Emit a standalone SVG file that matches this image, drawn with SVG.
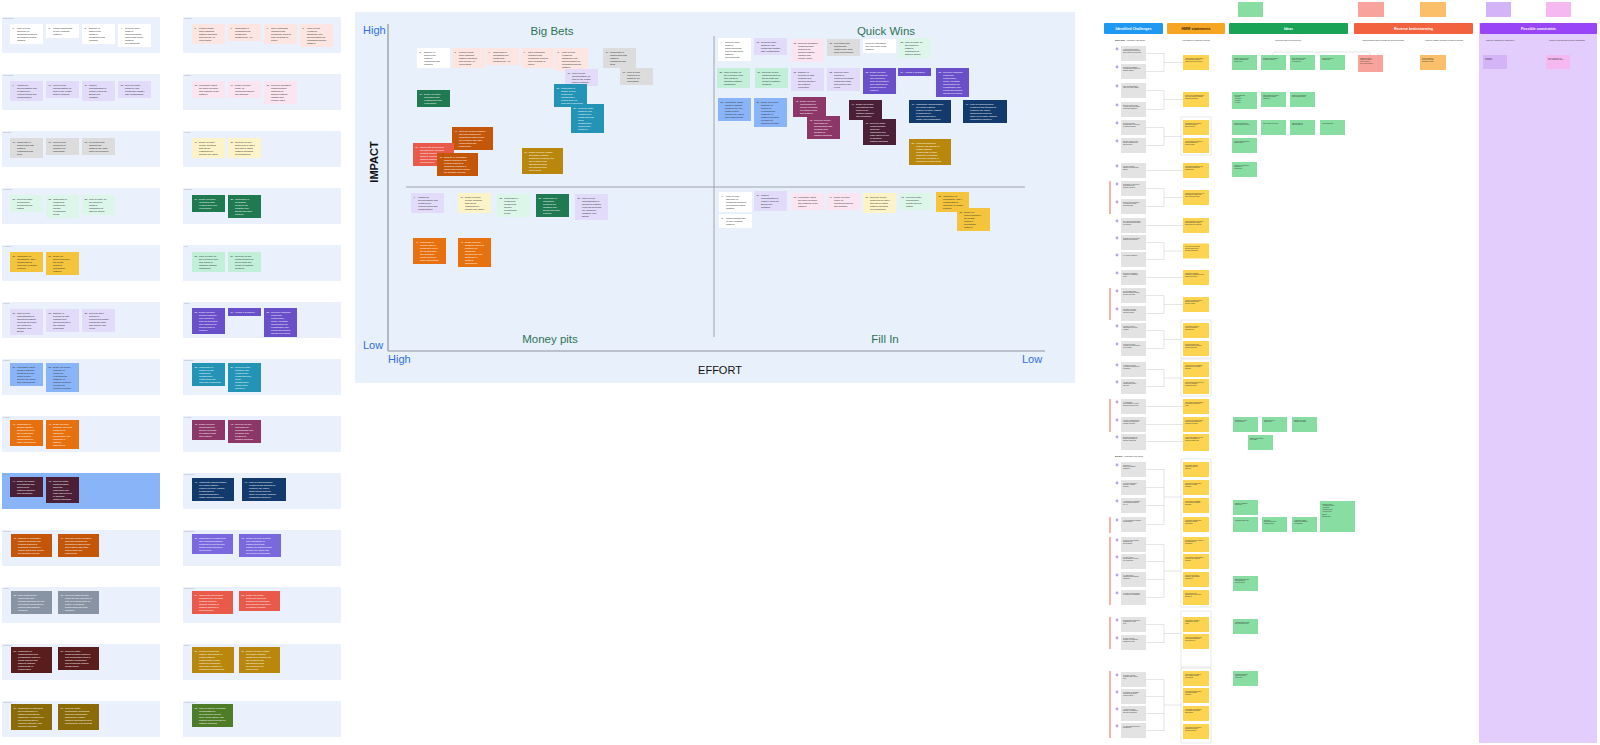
<svg xmlns="http://www.w3.org/2000/svg" width="1600" height="745" viewBox="0 0 1600 745">
<style>
text{font-family:"Liberation Sans",Arial,sans-serif}
.t{font-size:2.3px;fill:#2a2a2a}
.t.w{fill:#fff}
.r{font-size:1.4px;fill:#333}
.sub{font-size:1.8px;fill:#333}
.lbl{font-size:1.6px;fill:#9aa3b0}
.band{fill:#eaf1fd}
.hi{fill:#8ab4f8}
.wh{fill:#fff}.pe{fill:#fde6e1}.lp{fill:#e2dbfa}.pk{fill:#fbe5f0}.gy{fill:#dcdcdc}.ly{fill:#fdf3c8}.mt{fill:#dcf6ea}.dg{fill:#1f7a52}.ye{fill:#f5c43d}.mg{fill:#c2efd8}.pu{fill:#6a4fca}.bu{fill:#8ab4f8}.te{fill:#2394b6}.or{fill:#e8710f}.pl{fill:#8d3668}.ma{fill:#4b1f36}.nv{fill:#133a6d}.bo{fill:#c4560a}.mp{fill:#7a68de}.sl{fill:#8893a3}.co{fill:#ea5a4b}.br{fill:#5a1d1d}.go{fill:#b8870b}.ol{fill:#8b6b07}.og{fill:#4e7c27}
.quad{font-size:11.5px;fill:#2f7356}
.axl{font-size:11px;fill:#2f6ee0}
.axt{font-size:11px;fill:#111}
.chs{fill:#e3e3e3}.dot{fill:#b9a4e8}.hm{fill:#fdd450}.idea{fill:#88dda3}.rb1{fill:#f8a39b}.rb2{fill:#fbbf6a}.cs1{fill:#d3b5f7}.cs2{fill:#f6b8f0}
.red{fill:#ec6a56}
.box{fill:#fff;stroke:#d3d3d3;stroke-width:0.5}
.hdr{font-size:3.6px;font-weight:bold;fill:#fff}
.conn{fill:none;stroke:#cbcbcb;stroke-width:0.5}
</style>
<defs>
<g id="n1"><rect class="wh" width="33" height="20"/><text class="t" y="5"><tspan x="2.5">1.</tspan><tspan x="7">Lack of clear</tspan><tspan x="7" dy="3">advocacy or</tspan><tspan x="7" dy="3">broadcast channels</tspan><tspan x="7" dy="3">for platform related</tspan><tspan x="7" dy="3">updates</tspan></text></g>
<g id="n2"><rect class="wh" width="33" height="14"/><text class="t" y="5"><tspan x="2.5">2.</tspan><tspan x="7">Limited awareness</tspan><tspan x="7" dy="3">of new versions/</tspan><tspan x="7" dy="3">features</tspan></text></g>
<g id="n3"><rect class="wh" width="33" height="20"/><text class="t" y="5"><tspan x="2.5">3.</tspan><tspan x="7">Difficulty in</tspan><tspan x="7" dy="3">discovering</tspan><tspan x="7" dy="3">platform</tspan><tspan x="7" dy="3">capabilities and</tspan><tspan x="7" dy="3">changes</tspan></text></g>
<g id="n4"><rect class="wh" width="33" height="23"/><text class="t" y="5"><tspan x="2.5">4.</tspan><tspan x="7">Need for more</tspan><tspan x="7" dy="3">blogs or</tspan><tspan x="7" dy="3">announcements</tspan><tspan x="7" dy="3">from teams about</tspan><tspan x="7" dy="3">platform</tspan><tspan x="7" dy="3">developments</tspan></text></g>
<g id="n5"><rect class="pe" width="33" height="20"/><text class="t" y="5"><tspan x="2.5">5.</tspan><tspan x="7">Friction points</tspan><tspan x="7" dy="3">when adopting</tspan><tspan x="7" dy="3">platform solutions</tspan><tspan x="7" dy="3">built around API</tspan><tspan x="7" dy="3">conventions</tspan></text></g>
<g id="n6"><rect class="pe" width="33" height="17"/><text class="t" y="5"><tspan x="2.5">6.</tspan><tspan x="7">Challenges in</tspan><tspan x="7" dy="3">integrating and</tspan><tspan x="7" dy="3">configuring</tspan><tspan x="7" dy="3">solutions like API</tspan></text></g>
<g id="n7"><rect class="pe" width="33" height="20"/><text class="t" y="5"><tspan x="2.5">7.</tspan><tspan x="7">Time-consuming</tspan><tspan x="7" dy="3">upgrades and</tspan><tspan x="7" dy="3">migrations, such as</tspan><tspan x="7" dy="3">from Webpack to</tspan><tspan x="7" dy="3">Parcel</tspan></text></g>
<g id="n8"><rect class="pe" width="33" height="23"/><text class="t" y="5"><tspan x="2.5">8.</tspan><tspan x="7">Lack of clear</tspan><tspan x="7" dy="3">examples,</tspan><tspan x="7" dy="3">standards, and</tspan><tspan x="7" dy="3">documentation for</tspan><tspan x="7" dy="3">integrating with the</tspan><tspan x="7" dy="3">platform</tspan></text></g>
<g id="n9"><rect class="lp" width="33" height="20"/><text class="t" y="5"><tspan x="2.5">9.</tspan><tspan x="7">Insufficient</tspan><tspan x="7" dy="3">documentation and</tspan><tspan x="7" dy="3">examples for</tspan><tspan x="7" dy="3">various setups and</tspan><tspan x="7" dy="3">configurations</tspan></text></g>
<g id="n10"><rect class="lp" width="33" height="17"/><text class="t" y="5"><tspan x="2.5">10.</tspan><tspan x="7">Lack of clear</tspan><tspan x="7" dy="3">documentation on</tspan><tspan x="7" dy="3">how to use certain</tspan><tspan x="7" dy="3">tools or features</tspan></text></g>
<g id="n11"><rect class="lp" width="33" height="20"/><text class="t" y="5"><tspan x="2.5">11.</tspan><tspan x="7">Limited</tspan><tspan x="7" dy="3">understanding of</tspan><tspan x="7" dy="3">complex tools like</tspan><tspan x="7" dy="3">Bifrost and</tspan><tspan x="7" dy="3">Tanstack</tspan></text></g>
<g id="n12"><rect class="lp" width="33" height="17"/><text class="t" y="5"><tspan x="2.5">12.</tspan><tspan x="7">Need for better</tspan><tspan x="7" dy="3">handover and</tspan><tspan x="7" dy="3">knowledge transfer</tspan><tspan x="7" dy="3">after contributions</tspan></text></g>
<g id="n13"><rect class="pk" width="33" height="17"/><text class="t" y="5"><tspan x="2.5">13.</tspan><tspan x="7">Uncertainty about</tspan><tspan x="7" dy="3">the future direction</tspan><tspan x="7" dy="3">and roadmap of the</tspan><tspan x="7" dy="3">platform</tspan></text></g>
<g id="n14"><rect class="pk" width="33" height="17"/><text class="t" y="5"><tspan x="2.5">14.</tspan><tspan x="7">Desire for more</tspan><tspan x="7" dy="3">clarity on</tspan><tspan x="7" dy="3">upcoming features</tspan><tspan x="7" dy="3">and changes</tspan></text></g>
<g id="n15"><rect class="pk" width="33" height="23"/><text class="t" y="5"><tspan x="2.5">15.</tspan><tspan x="7">Need for consistent</tspan><tspan x="7" dy="3">communication</tspan><tspan x="7" dy="3">channels for</tspan><tspan x="7" dy="3">sharing platform</tspan><tspan x="7" dy="3">updates and</tspan><tspan x="7" dy="3">release notes</tspan></text></g>
<g id="n16"><rect class="gy" width="33" height="20"/><text class="t" y="5"><tspan x="2.5">16.</tspan><tspan x="7">Challenges in</tspan><tspan x="7" dy="3">familiarizing with</tspan><tspan x="7" dy="3">platform</tspan><tspan x="7" dy="3">capabilities and</tspan><tspan x="7" dy="3">tools</tspan></text></g>
<g id="n17"><rect class="gy" width="33" height="17"/><text class="t" y="5"><tspan x="2.5">17.</tspan><tspan x="7">Lack of clear</tspan><tspan x="7" dy="3">resources or</tspan><tspan x="7" dy="3">guidance for</tspan><tspan x="7" dy="3">onboarding</tspan></text></g>
<g id="n18"><rect class="gy" width="33" height="17"/><text class="t" y="5"><tspan x="2.5">18.</tspan><tspan x="7">Perception that</tspan><tspan x="7" dy="3">adopting the</tspan><tspan x="7" dy="3">platform may slow</tspan><tspan x="7" dy="3">down development</tspan></text></g>
<g id="n19"><rect class="ly" width="33" height="20"/><text class="t" y="5"><tspan x="2.5">19.</tspan><tspan x="7">Desire for more</tspan><tspan x="7" dy="3">flexible solutions</tspan><tspan x="7" dy="3">that can be</tspan><tspan x="7" dy="3">customized to</tspan><tspan x="7" dy="3">specific use cases</tspan></text></g>
<g id="n20"><rect class="ly" width="33" height="20"/><text class="t" y="5"><tspan x="2.5">20.</tspan><tspan x="7">Need for clearer</tspan><tspan x="7" dy="3">guidelines on when</tspan><tspan x="7" dy="3">and how to adopt</tspan><tspan x="7" dy="3">platform solutions</tspan><tspan x="7" dy="3">for acquisitions</tspan></text></g>
<g id="n21"><rect class="mt" width="33" height="17"/><text class="t" y="5"><tspan x="2.5">21.</tspan><tspan x="7">Need for better</tspan><tspan x="7" dy="3">performance</tspan><tspan x="7" dy="3">monitoring and</tspan><tspan x="7" dy="3">testing</tspan></text></g>
<g id="n22"><rect class="mt" width="33" height="23"/><text class="t" y="5"><tspan x="2.5">22.</tspan><tspan x="7">Challenges in</tspan><tspan x="7" dy="3">configuring</tspan><tspan x="7" dy="3">solutions for</tspan><tspan x="7" dy="3">specific</tspan><tspan x="7" dy="3">performance</tspan><tspan x="7" dy="3">needs</tspan></text></g>
<g id="n23"><rect class="mt" width="33" height="20"/><text class="t" y="5"><tspan x="2.5">23.</tspan><tspan x="7">Lack of clarity on</tspan><tspan x="7" dy="3">the impact of</tspan><tspan x="7" dy="3">platform</tspan><tspan x="7" dy="3">capabilities at</tspan><tspan x="7" dy="3">different scales</tspan></text></g>
<g id="n24"><rect class="dg" width="33" height="17"/><text class="t w" y="5"><tspan x="2.5">24.</tspan><tspan x="7">Desire for better</tspan><tspan x="7" dy="3">integration with</tspan><tspan x="7" dy="3">existing tools and</tspan><tspan x="7" dy="3">ecosystems</tspan></text></g>
<g id="n25"><rect class="dg" width="33" height="23"/><text class="t w" y="5"><tspan x="2.5">25.</tspan><tspan x="7">Challenges in</tspan><tspan x="7" dy="3">integrating</tspan><tspan x="7" dy="3">solutions like</tspan><tspan x="7" dy="3">Tanstack and</tspan><tspan x="7" dy="3">Bifrost with other</tspan><tspan x="7" dy="3">systems</tspan></text></g>
<g id="n26"><rect class="ye" width="33" height="20"/><text class="t" y="5"><tspan x="2.5">26.</tspan><tspan x="7">Importance of</tspan><tspan x="7" dy="3">accessibility (a11y)</tspan><tspan x="7" dy="3">considerations,</tspan><tspan x="7" dy="3">especially in design</tspan><tspan x="7" dy="3">systems</tspan></text></g>
<g id="n27"><rect class="ye" width="33" height="23"/><text class="t" y="5"><tspan x="2.5">27.</tspan><tspan x="7">Desire for</tspan><tspan x="7" dy="3">improvements in</tspan><tspan x="7" dy="3">the design</tspan><tspan x="7" dy="3">system's</tspan><tspan x="7" dy="3">accessibility</tspan><tspan x="7" dy="3">features</tspan></text></g>
<g id="n28"><rect class="mg" width="33" height="20"/><text class="t" y="5"><tspan x="2.5">28.</tspan><tspan x="7">Lack of clarity on</tspan><tspan x="7" dy="3">the expected value</tspan><tspan x="7" dy="3">and impact of</tspan><tspan x="7" dy="3">adopting platform</tspan><tspan x="7" dy="3">capabilities</tspan></text></g>
<g id="n29"><rect class="mg" width="33" height="20"/><text class="t" y="5"><tspan x="2.5">29.</tspan><tspan x="7">Need for clearer</tspan><tspan x="7" dy="3">communication on</tspan><tspan x="7" dy="3">the benefits and</tspan><tspan x="7" dy="3">impact of platform</tspan><tspan x="7" dy="3">solutions</tspan></text></g>
<g id="n30"><rect class="lp" width="33" height="26"/><text class="t" y="5"><tspan x="2.5">30.</tspan><tspan x="7">Lack of clear</tspan><tspan x="7" dy="3">understanding of</tspan><tspan x="7" dy="3">advanced platform</tspan><tspan x="7" dy="3">concepts and tools</tspan><tspan x="7" dy="3">like Compiled,</tspan><tspan x="7" dy="3">Tanstack, and</tspan><tspan x="7" dy="3">Bifrost</tspan></text></g>
<g id="n31"><rect class="lp" width="33" height="23"/><text class="t" y="5"><tspan x="2.5">31.</tspan><tspan x="7">Difficulty in</tspan><tspan x="7" dy="3">keeping up with</tspan><tspan x="7" dy="3">changes and</tspan><tspan x="7" dy="3">advancements in</tspan><tspan x="7" dy="3">the platform</tspan><tspan x="7" dy="3">ecosystem</tspan></text></g>
<g id="n32"><rect class="lp" width="33" height="23"/><text class="t" y="5"><tspan x="2.5">32.</tspan><tspan x="7">Need for more</tspan><tspan x="7" dy="3">training or</tspan><tspan x="7" dy="3">resources to bridge</tspan><tspan x="7" dy="3">knowledge gaps</tspan><tspan x="7" dy="3">and improve skill</tspan><tspan x="7" dy="3">levels</tspan></text></g>
<g id="n33"><rect class="pu" width="33" height="26"/><text class="t w" y="5"><tspan x="2.5">33.</tspan><tspan x="7">Desire for more</tspan><tspan x="7" dy="3">support channels</tspan><tspan x="7" dy="3">and resources,</tspan><tspan x="7" dy="3">such as dedicated</tspan><tspan x="7" dy="3">help channels for</tspan><tspan x="7" dy="3">specific tools or</tspan><tspan x="7" dy="3">features</tspan></text></g>
<g id="n34"><rect class="pu" width="33" height="8"/><text class="t w" y="5"><tspan x="2.5">34.</tspan><tspan x="7">Having a champion</tspan></text></g>
<g id="n35"><rect class="pu" width="33" height="29"/><text class="t w" y="5"><tspan x="2.5">35.</tspan><tspan x="7">Need for a stronger</tspan><tspan x="7" dy="3">community</tspan><tspan x="7" dy="3">engagement</tspan><tspan x="7" dy="3">model, including</tspan><tspan x="7" dy="3">opportunities for</tspan><tspan x="7" dy="3">collaboration and</tspan><tspan x="7" dy="3">knowledge sharing</tspan><tspan x="7" dy="3">among developers</tspan></text></g>
<g id="n36"><rect class="bu" width="33" height="23"/><text class="t" y="5"><tspan x="2.5">36.</tspan><tspan x="7">Uncertainty about</tspan><tspan x="7" dy="3">whether platform</tspan><tspan x="7" dy="3">solutions are well</tspan><tspan x="7" dy="3">suited to their</tspan><tspan x="7" dy="3">specific use cases</tspan><tspan x="7" dy="3">and requirements</tspan></text></g>
<g id="n37"><rect class="bu" width="33" height="29"/><text class="t" y="5"><tspan x="2.5">37.</tspan><tspan x="7">Desire for clearer</tspan><tspan x="7" dy="3">guidance or</tspan><tspan x="7" dy="3">criteria for</tspan><tspan x="7" dy="3">evaluating the</tspan><tspan x="7" dy="3">suitability of</tspan><tspan x="7" dy="3">platform solutions</tspan><tspan x="7" dy="3">for different</tspan><tspan x="7" dy="3">projects or teams</tspan></text></g>
<g id="n38"><rect class="te" width="33" height="23"/><text class="t w" y="5"><tspan x="2.5">38.</tspan><tspan x="7">Challenges in</tspan><tspan x="7" dy="3">setting up and</tspan><tspan x="7" dy="3">configuring</tspan><tspan x="7" dy="3">infrastructure-</tspan><tspan x="7" dy="3">related tools like</tspan><tspan x="7" dy="3">GKE and Kubernetes</tspan></text></g>
<g id="n39"><rect class="te" width="33" height="29"/><text class="t w" y="5"><tspan x="2.5">39.</tspan><tspan x="7">Need for better</tspan><tspan x="7" dy="3">guidance and</tspan><tspan x="7" dy="3">examples for</tspan><tspan x="7" dy="3">configuring and</tspan><tspan x="7" dy="3">using</tspan><tspan x="7" dy="3">infrastructure-</tspan><tspan x="7" dy="3">related tools</tspan><tspan x="7" dy="3">effectively</tspan></text></g>
<g id="n40"><rect class="or" width="33" height="26"/><text class="t w" y="5"><tspan x="2.5">40.</tspan><tspan x="7">Challenges in</tspan><tspan x="7" dy="3">scaling platform</tspan><tspan x="7" dy="3">solutions to meet</tspan><tspan x="7" dy="3">the performance</tspan><tspan x="7" dy="3">and scalability</tspan><tspan x="7" dy="3">requirements of</tspan><tspan x="7" dy="3">larger applications</tspan></text></g>
<g id="n41"><rect class="or" width="33" height="29"/><text class="t w" y="5"><tspan x="2.5">41.</tspan><tspan x="7">Desire for more</tspan><tspan x="7" dy="3">guidance and best</tspan><tspan x="7" dy="3">practices for</tspan><tspan x="7" dy="3">optimizing</tspan><tspan x="7" dy="3">performance and</tspan><tspan x="7" dy="3">scalability in</tspan><tspan x="7" dy="3">platform</tspan><tspan x="7" dy="3">applications</tspan></text></g>
<g id="n42"><rect class="pl" width="33" height="20"/><text class="t w" y="5"><tspan x="2.5">42.</tspan><tspan x="7">Desire for more</tspan><tspan x="7" dy="3">opportunities to</tspan><tspan x="7" dy="3">provide feedback</tspan><tspan x="7" dy="3">on platform tools</tspan><tspan x="7" dy="3">and features</tspan></text></g>
<g id="n43"><rect class="pl" width="33" height="23"/><text class="t w" y="5"><tspan x="2.5">43.</tspan><tspan x="7">Need for clearer</tspan><tspan x="7" dy="3">processes for</tspan><tspan x="7" dy="3">incorporating user</tspan><tspan x="7" dy="3">feedback and</tspan><tspan x="7" dy="3">iterating on</tspan><tspan x="7" dy="3">platform solutions</tspan></text></g>
<g id="n44"><rect class="ma" width="33" height="20"/><text class="t w" y="5"><tspan x="2.5">44.</tspan><tspan x="7">Desire for clearer</tspan><tspan x="7" dy="3">expectations and</tspan><tspan x="7" dy="3">timelines for</tspan><tspan x="7" dy="3">platform adoption</tspan><tspan x="7" dy="3">and integration</tspan></text></g>
<g id="n45"><rect class="ma" width="33" height="26"/><text class="t w" y="5"><tspan x="2.5">45.</tspan><tspan x="7">Need for better</tspan><tspan x="7" dy="3">communication</tspan><tspan x="7" dy="3">about the</tspan><tspan x="7" dy="3">challenges and</tspan><tspan x="7" dy="3">trade-offs involved</tspan><tspan x="7" dy="3">in adopting</tspan><tspan x="7" dy="3">platform solutions</tspan></text></g>
<g id="n46"><rect class="nv" width="42" height="23"/><text class="t w" y="5"><tspan x="2.5">46.</tspan><tspan x="7">Inadequate documentation</tspan><tspan x="7" dy="3">for certain platform</tspan><tspan x="7" dy="3">features or tools, leading</tspan><tspan x="7" dy="3">to difficulties in</tspan><tspan x="7" dy="3">understanding their</tspan><tspan x="7" dy="3">usage and configuration</tspan></text></g>
<g id="n47"><rect class="nv" width="44" height="23"/><text class="t w" y="5"><tspan x="2.5">47.</tspan><tspan x="7">Lack of comprehensive</tspan><tspan x="7" dy="3">examples and tutorials for</tspan><tspan x="7" dy="3">common use cases,</tspan><tspan x="7" dy="3">hindering developers'</tspan><tspan x="7" dy="3">ability to leverage platform</tspan><tspan x="7" dy="3">capabilities effectively</tspan></text></g>
<g id="n48"><rect class="bo" width="41" height="23"/><text class="t w" y="5"><tspan x="2.5">48.</tspan><tspan x="7">Difficulty in integrating</tspan><tspan x="7" dy="3">platform solutions and</tspan><tspan x="7" dy="3">existing systems or</tspan><tspan x="7" dy="3">workflows, resulting in</tspan><tspan x="7" dy="3">friction and delays during</tspan><tspan x="7" dy="3">the adoption process</tspan></text></g>
<g id="n49"><rect class="bo" width="41" height="23"/><text class="t w" y="5"><tspan x="2.5">49.</tspan><tspan x="7">Need for clearer guidance</tspan><tspan x="7" dy="3">and best practices for</tspan><tspan x="7" dy="3">integrating platform tools</tspan><tspan x="7" dy="3">and features with other</tspan><tspan x="7" dy="3">technologies and</tspan><tspan x="7" dy="3">frameworks</tspan></text></g>
<g id="n50"><rect class="mp" width="41" height="20"/><text class="t w" y="5"><tspan x="2.5">50.</tspan><tspan x="7">Challenges in customizing</tspan><tspan x="7" dy="3">and extending platform</tspan><tspan x="7" dy="3">solutions to meet specific</tspan><tspan x="7" dy="3">project requirements or</tspan><tspan x="7" dy="3">preferences</tspan></text></g>
<g id="n51"><rect class="mp" width="42" height="23"/><text class="t w" y="5"><tspan x="2.5">51.</tspan><tspan x="7">Desire for more flexibility</tspan><tspan x="7" dy="3">and extensibility in</tspan><tspan x="7" dy="3">platform tools and</tspan><tspan x="7" dy="3">features to accommodate</tspan><tspan x="7" dy="3">diverse use cases and</tspan><tspan x="7" dy="3">development workflows</tspan></text></g>
<g id="n52"><rect class="sl" width="41" height="23"/><text class="t w" y="5"><tspan x="2.5">52.</tspan><tspan x="7">Lack of structured</tspan><tspan x="7" dy="3">onboarding and</tspan><tspan x="7" dy="3">training resources for new</tspan><tspan x="7" dy="3">developers joining teams</tspan><tspan x="7" dy="3">working with platform</tspan><tspan x="7" dy="3">solutions</tspan></text></g>
<g id="n53"><rect class="sl" width="41" height="23"/><text class="t w" y="5"><tspan x="2.5">53.</tspan><tspan x="7">Need for better training</tspan><tspan x="7" dy="3">materials and resources to</tspan><tspan x="7" dy="3">help developers ramp up</tspan><tspan x="7" dy="3">quickly on platform</tspan><tspan x="7" dy="3">technologies and best</tspan><tspan x="7" dy="3">practices</tspan></text></g>
<g id="n54"><rect class="co" width="41" height="23"/><text class="t w" y="5"><tspan x="2.5">54.</tspan><tspan x="7">Issues with dependency</tspan><tspan x="7" dy="3">management, including</tspan><tspan x="7" dy="3">conflicts between</tspan><tspan x="7" dy="3">different versions of</tspan><tspan x="7" dy="3">platform libraries or</tspan><tspan x="7" dy="3">dependencies</tspan></text></g>
<g id="n55"><rect class="co" width="41" height="20"/><text class="t w" y="5"><tspan x="2.5">55.</tspan><tspan x="7">Desire for clearer</tspan><tspan x="7" dy="3">guidelines and best</tspan><tspan x="7" dy="3">practices for managing</tspan><tspan x="7" dy="3">dependencies effectively</tspan><tspan x="7" dy="3">in platform projects</tspan></text></g>
<g id="n56"><rect class="br" width="41" height="26"/><text class="t w" y="5"><tspan x="2.5">56.</tspan><tspan x="7">Challenges in</tspan><tspan x="7" dy="3">communication and</tspan><tspan x="7" dy="3">collaboration between</tspan><tspan x="7" dy="3">teams working with</tspan><tspan x="7" dy="3">different platform</tspan><tspan x="7" dy="3">components or</tspan><tspan x="7" dy="3">technologies</tspan></text></g>
<g id="n57"><rect class="br" width="41" height="23"/><text class="t w" y="5"><tspan x="2.5">57.</tspan><tspan x="7">Need for better</tspan><tspan x="7" dy="3">communication channels</tspan><tspan x="7" dy="3">and collaboration tools to</tspan><tspan x="7" dy="3">facilitate coordination</tspan><tspan x="7" dy="3">and knowledge sharing</tspan><tspan x="7" dy="3">across teams</tspan></text></g>
<g id="n58"><rect class="go" width="42" height="26"/><text class="t w" y="5"><tspan x="2.5">58.</tspan><tspan x="7">Concerns about the</tspan><tspan x="7" dy="3">maturity and stability of</tspan><tspan x="7" dy="3">certain platform</tspan><tspan x="7" dy="3">components or tools,</tspan><tspan x="7" dy="3">leading to uncertainty</tspan><tspan x="7" dy="3">about their reliability in</tspan><tspan x="7" dy="3">production environments</tspan></text></g>
<g id="n59"><rect class="go" width="41" height="26"/><text class="t w" y="5"><tspan x="2.5">59.</tspan><tspan x="7">Desire for more mature</tspan><tspan x="7" dy="3">and stable platform</tspan><tspan x="7" dy="3">solutions to minimize the</tspan><tspan x="7" dy="3">risk of issues and</tspan><tspan x="7" dy="3">disruptions during</tspan><tspan x="7" dy="3">development and</tspan><tspan x="7" dy="3">deployment</tspan></text></g>
<g id="n60"><rect class="ol" width="41" height="26"/><text class="t w" y="5"><tspan x="2.5">60.</tspan><tspan x="7">Challenges in optimizing</tspan><tspan x="7" dy="3">the performance of</tspan><tspan x="7" dy="3">platform applications,</tspan><tspan x="7" dy="3">particularly in areas such</tspan><tspan x="7" dy="3">as rendering speed,</tspan><tspan x="7" dy="3">resource efficiency, and</tspan><tspan x="7" dy="3">resource utilization</tspan></text></g>
<g id="n61"><rect class="ol" width="41" height="26"/><text class="t w" y="5"><tspan x="2.5">61.</tspan><tspan x="7">Need for better</tspan><tspan x="7" dy="3">performance monitoring</tspan><tspan x="7" dy="3">tools and optimization</tspan><tspan x="7" dy="3">strategies to ensure</tspan><tspan x="7" dy="3">platform applications meet</tspan><tspan x="7" dy="3">performance requirements</tspan></text></g>
<g id="n62"><rect class="og" width="41" height="23"/><text class="t w" y="5"><tspan x="2.5">62.</tspan><tspan x="7">Lack of effective feedback</tspan><tspan x="7" dy="3">mechanisms for</tspan><tspan x="7" dy="3">developers to provide</tspan><tspan x="7" dy="3">input, report issues, and</tspan><tspan x="7" dy="3">suggest improvements for</tspan><tspan x="7" dy="3">platform solutions</tspan></text></g>
<g id="nvp"><rect class="wh" width="33" height="14"/><text class="t" y="5"><tspan x="2.5">Need to understand</tspan><tspan x="2.5" dy="3">the value prop of the</tspan><tspan x="2.5" dy="3">platform</tspan></text></g>
</defs>

<rect width="1600" height="745" fill="#fff"/>

<!-- LEFT: grouped challenge bands -->
<g id="groups">
<g id="bands">
<rect class="band" x="2" y="17" width="158" height="36"/><rect class="band" x="183" y="17" width="158" height="36"/>
<rect class="band" x="2" y="74" width="158" height="36"/><rect class="band" x="183" y="74" width="158" height="36"/>
<rect class="band" x="2" y="131" width="158" height="36"/><rect class="band" x="183" y="131" width="158" height="36"/>
<rect class="band" x="2" y="188" width="158" height="36"/><rect class="band" x="183" y="188" width="158" height="36"/>
<rect class="band" x="2" y="245" width="158" height="36"/><rect class="band" x="183" y="245" width="158" height="36"/>
<rect class="band" x="2" y="302" width="158" height="36"/><rect class="band" x="183" y="302" width="158" height="36"/>
<rect class="band" x="2" y="359" width="158" height="36"/><rect class="band" x="183" y="359" width="158" height="36"/>
<rect class="band" x="2" y="416" width="158" height="36"/><rect class="band" x="183" y="416" width="158" height="36"/>
<rect class="hi" x="2" y="473" width="158" height="36"/><rect class="band" x="183" y="473" width="158" height="36"/>
<rect class="band" x="2" y="530" width="158" height="36"/><rect class="band" x="183" y="530" width="158" height="36"/>
<rect class="band" x="2" y="587" width="158" height="36"/><rect class="band" x="183" y="587" width="158" height="36"/>
<rect class="band" x="2" y="644" width="158" height="36"/><rect class="band" x="183" y="644" width="158" height="36"/>
<rect class="band" x="2" y="701" width="158" height="36"/><rect class="band" x="183" y="701" width="158" height="36"/>
</g>
<g id="band-labels">
<text class="lbl" x="3" y="19">Communication</text><text class="lbl" x="184" y="19">Integration</text>
<text class="lbl" x="3" y="76">Documentation</text><text class="lbl" x="184" y="76">Roadmap</text>
<text class="lbl" x="3" y="133">Onboarding</text><text class="lbl" x="184" y="133">Flexibility</text>
<text class="lbl" x="3" y="190">Performance</text><text class="lbl" x="184" y="190">Ecosystem</text>
<text class="lbl" x="3" y="247">Accessibility</text><text class="lbl" x="184" y="247">Value</text>
<text class="lbl" x="3" y="304">Learning</text><text class="lbl" x="184" y="304">Support</text>
<text class="lbl" x="3" y="361">Suitability</text><text class="lbl" x="184" y="361">Infrastructure</text>
<text class="lbl" x="3" y="418">Scalability</text><text class="lbl" x="184" y="418">Feedback</text>
<text class="lbl" x="3" y="475">Adoption</text><text class="lbl" x="184" y="475">Documentation</text>
<text class="lbl" x="3" y="532">Integration</text><text class="lbl" x="184" y="532">Customization</text>
<text class="lbl" x="3" y="589">Training</text><text class="lbl" x="184" y="589">Dependencies</text>
<text class="lbl" x="3" y="646">Collaboration</text><text class="lbl" x="184" y="646">Stability</text>
<text class="lbl" x="3" y="703">Optimization</text><text class="lbl" x="184" y="703">Feedback loops</text>
</g>
<g id="list-1"><use href="#n1" x="10" y="24"/></g><g id="list-2"><use href="#n2" x="46" y="24"/></g><g id="list-3"><use href="#n3" x="82" y="24"/></g><g id="list-4"><use href="#n4" x="118" y="24"/></g>
<g id="list-5"><use href="#n5" x="192" y="24"/></g><g id="list-6"><use href="#n6" x="228" y="24"/></g><g id="list-7"><use href="#n7" x="264" y="24"/></g><g id="list-8"><use href="#n8" x="300" y="24"/></g>
<g id="list-9"><use href="#n9" x="10" y="81"/></g><g id="list-10"><use href="#n10" x="46" y="81"/></g><g id="list-11"><use href="#n11" x="82" y="81"/></g><g id="list-12"><use href="#n12" x="118" y="81"/></g>
<g id="list-13"><use href="#n13" x="192" y="81"/></g><g id="list-14"><use href="#n14" x="228" y="81"/></g><g id="list-15"><use href="#n15" x="264" y="81"/></g>
<g id="list-16"><use href="#n16" x="10" y="138"/></g><g id="list-17"><use href="#n17" x="46" y="138"/></g><g id="list-18"><use href="#n18" x="82" y="138"/></g>
<g id="list-19"><use href="#n19" x="192" y="138"/></g><g id="list-20"><use href="#n20" x="228" y="138"/></g>
<g id="list-21"><use href="#n21" x="10" y="195"/></g><g id="list-22"><use href="#n22" x="46" y="195"/></g><g id="list-23"><use href="#n23" x="82" y="195"/></g>
<g id="list-24"><use href="#n24" x="192" y="195"/></g><g id="list-25"><use href="#n25" x="228" y="195"/></g>
<g id="list-26"><use href="#n26" x="10" y="252"/></g><g id="list-27"><use href="#n27" x="46" y="252"/></g>
<g id="list-28"><use href="#n28" x="192" y="252"/></g><g id="list-29"><use href="#n29" x="228" y="252"/></g>
<g id="list-30"><use href="#n30" x="10" y="309"/></g><g id="list-31"><use href="#n31" x="46" y="309"/></g><g id="list-32"><use href="#n32" x="82" y="309"/></g>
<g id="list-33"><use href="#n33" x="192" y="308"/></g><g id="list-34"><use href="#n34" x="228" y="308"/></g><g id="list-35"><use href="#n35" x="264" y="308"/></g>
<g id="list-36"><use href="#n36" x="10" y="363"/></g><g id="list-37"><use href="#n37" x="46" y="363"/></g>
<g id="list-38"><use href="#n38" x="192" y="363"/></g><g id="list-39"><use href="#n39" x="228" y="363"/></g>
<g id="list-40"><use href="#n40" x="10" y="420"/></g><g id="list-41"><use href="#n41" x="46" y="420"/></g>
<g id="list-42"><use href="#n42" x="192" y="420"/></g><g id="list-43"><use href="#n43" x="228" y="420"/></g>
<g id="list-44"><use href="#n44" x="10" y="477"/></g><g id="list-45"><use href="#n45" x="46" y="477"/></g>
<g id="list-46"><use href="#n46" x="192" y="478"/></g><g id="list-47"><use href="#n47" x="242" y="478"/></g>
<g id="list-48"><use href="#n48" x="11" y="534"/></g><g id="list-49"><use href="#n49" x="58" y="534"/></g>
<g id="list-50"><use href="#n50" x="192" y="534"/></g><g id="list-51"><use href="#n51" x="239" y="534"/></g>
<g id="list-52"><use href="#n52" x="11" y="591"/></g><g id="list-53"><use href="#n53" x="58" y="591"/></g>
<g id="list-54"><use href="#n54" x="192" y="591"/></g><g id="list-55"><use href="#n55" x="239" y="591"/></g>
<g id="list-56"><use href="#n56" x="11" y="647"/></g><g id="list-57"><use href="#n57" x="58" y="647"/></g>
<g id="list-58"><use href="#n58" x="192" y="647"/></g><g id="list-59"><use href="#n59" x="239" y="647"/></g>
<g id="list-60"><use href="#n60" x="11" y="704"/></g><g id="list-61"><use href="#n61" x="58" y="704"/></g>
<g id="list-62"><use href="#n62" x="192" y="704"/></g>
</g>

<!-- CENTER: impact / effort matrix -->
<g id="matrix">
<rect x="355" y="12" width="720" height="371" fill="#e8f0fc"/>
<g id="axes" stroke="#8d939b" fill="none">
<line x1="388" y1="24" x2="388" y2="351" stroke-width="1.2"/>
<line x1="388" y1="351" x2="1045" y2="351" stroke-width="1.2"/>
<line x1="406" y1="187" x2="1025" y2="187" stroke-width="0.8"/>
<line x1="714" y1="36" x2="714" y2="337" stroke-width="0.8"/>
</g>
<text class="axl" x="363" y="34">High</text>
<text class="axl" x="363" y="349">Low</text>
<text class="axl" x="388" y="363">High</text>
<text class="axl" x="1022" y="363">Low</text>
<text class="axt" x="720" y="374" text-anchor="middle">EFFORT</text>
<text class="axt" transform="translate(378,162) rotate(-90)" text-anchor="middle" font-weight="bold">IMPACT</text>
<text class="quad" x="552" y="35" text-anchor="middle">Big Bets</text>
<text class="quad" x="886" y="35" text-anchor="middle">Quick Wins</text>
<text class="quad" x="550" y="343" text-anchor="middle">Money pits</text>
<text class="quad" x="885" y="343" text-anchor="middle">Fill In</text>

<g id="m-3"><use href="#n3" x="417" y="48"/></g>
<g id="m-5"><use href="#n5" x="452" y="48"/></g>
<g id="m-6"><use href="#n6" x="486" y="48"/></g>
<g id="m-7"><use href="#n7" x="521" y="48"/></g>
<g id="m-8"><use href="#n8" x="555" y="48"/></g>
<g id="m-16"><use href="#n16" x="603" y="48"/></g>
<g id="m-17"><use href="#n17" x="620" y="68"/></g>
<g id="m-10"><use href="#n10" x="565" y="69"/></g>
<g id="m-24"><use href="#n24" x="417" y="90"/></g>
<g id="m-38"><use href="#n38" x="554" y="84"/></g>
<g id="m-39"><use href="#n39" x="571" y="104"/></g>
<g id="m-49"><use href="#n49" x="452" y="127"/></g>
<g id="m-54"><use href="#n54" x="413" y="143"/></g>
<g id="m-48"><use href="#n48" x="437" y="153"/></g>
<g id="m-59"><use href="#n59" x="522" y="148"/></g>

<g id="m-4"><use href="#n4" x="718" y="38"/></g>
<g id="m-12"><use href="#n12" x="754" y="38"/></g>
<g id="m-15"><use href="#n15" x="791" y="39"/></g>
<g id="m-18"><use href="#n18" x="827" y="39"/></g>
<g id="m-vp"><use href="#nvp" x="863" y="39"/></g>
<g id="m-23"><use href="#n23" x="898" y="38"/></g>
<g id="m-28"><use href="#n28" x="717" y="68"/></g>
<g id="m-29"><use href="#n29" x="755" y="68"/></g>
<g id="m-31"><use href="#n31" x="791" y="68"/></g>
<g id="m-32"><use href="#n32" x="827" y="68"/></g>
<g id="m-33"><use href="#n33" x="863" y="68"/></g>
<g id="m-34"><use href="#n34" x="898" y="68"/></g>
<g id="m-35"><use href="#n35" x="936" y="68"/></g>
<g id="m-36"><use href="#n36" x="718" y="98"/></g>
<g id="m-37"><use href="#n37" x="754" y="98"/></g>
<g id="m-42"><use href="#n42" x="793" y="97"/></g>
<g id="m-43"><use href="#n43" x="807" y="116"/></g>
<g id="m-44"><use href="#n44" x="849" y="100"/></g>
<g id="m-45"><use href="#n45" x="863" y="119"/></g>
<g id="m-46"><use href="#n46" x="909" y="100"/></g>
<g id="m-47"><use href="#n47" x="963" y="100"/></g>
<g id="m-58"><use href="#n58" x="909" y="139"/></g>

<g id="m-9"><use href="#n9" x="411" y="193"/></g>
<g id="m-19"><use href="#n19" x="458" y="193"/></g>
<g id="m-22"><use href="#n22" x="497" y="194"/></g>
<g id="m-25"><use href="#n25" x="536" y="194"/></g>
<g id="m-30"><use href="#n30" x="575" y="194"/></g>
<g id="m-40"><use href="#n40" x="413" y="238"/></g>
<g id="m-41"><use href="#n41" x="458" y="238"/></g>

<g id="m-1"><use href="#n1" x="719" y="192"/></g>
<g id="m-2"><use href="#n2" x="719" y="214"/></g>
<g id="m-11"><use href="#n11" x="754" y="191"/></g>
<g id="m-13"><use href="#n13" x="791" y="193"/></g>
<g id="m-14"><use href="#n14" x="827" y="193"/></g>
<g id="m-20"><use href="#n20" x="863" y="193"/></g>
<g id="m-21"><use href="#n21" x="899" y="193"/></g>
<g id="m-26"><use href="#n26" x="936" y="192"/></g>
<g id="m-27"><use href="#n27" x="957" y="208"/></g>
</g>

<!-- RIGHT: solution table -->
<g id="table">
<rect x="1479" y="23" width="118" height="720" fill="#e3cdfc"/>
<g id="legend">
<rect class="idea" x="1238" y="2" width="25" height="15"/>
<rect class="rb1" x="1358" y="2" width="26" height="15"/>
<rect class="rb2" x="1420" y="2" width="26" height="15"/>
<rect class="cs1" x="1486" y="2" width="25" height="15"/>
<rect class="cs2" x="1546" y="2" width="25" height="15"/>
</g>
<g id="hdr-challenges"><rect x="1104" y="23" width="59" height="11" rx="1" fill="#1e98f1"/><text class="hdr" x="1133.5" y="29.8" text-anchor="middle">Identified Challenges</text></g>
<g id="hdr-hmw"><rect x="1167" y="23" width="58" height="11" rx="1" fill="#f6a623"/><text class="hdr" x="1196" y="29.8" text-anchor="middle" style="fill:#3a2600">HMW statements</text></g>
<g id="hdr-ideas"><rect x="1229" y="23" width="119" height="11" rx="1" fill="#18a357"/><text class="hdr" x="1288.5" y="29.8" text-anchor="middle">Ideas</text></g>
<g id="hdr-reverse"><rect x="1354" y="23" width="119" height="11" rx="1" fill="#f2623f"/><text class="hdr" x="1413.5" y="29.8" text-anchor="middle">Reverse brainstorming</text></g>
<g id="hdr-constraints"><rect x="1480" y="23" width="117" height="11" rx="1" fill="#9845f7"/><text class="hdr" x="1538.5" y="29.8" text-anchor="middle">Possible constraints</text></g>

<text class="sub" x="1115" y="41"><tspan font-weight="bold">Quick Wins</tspan> – Low Effort High Impact</text>
<text class="sub" x="1196" y="41" text-anchor="middle">How might we? Using the template</text>
<text class="sub" x="1288" y="41" text-anchor="middle">Ideas from different perspectives</text>
<text class="sub" x="1383" y="41" text-anchor="middle">What situations might invalidate the solutions ideas?</text>
<text class="sub" x="1444" y="41" text-anchor="middle">What are possible solutions to those scenarios?</text>
<text class="sub" x="1500" y="41" text-anchor="middle">What are limitations we might face?</text>
<text class="sub" x="1567" y="41" text-anchor="middle">What are workarounds for those constraints?</text>
<text class="sub" x="1115" y="457"><tspan font-weight="bold">Big Bets</tspan> – High Effort High Impact</text>

<g id="red-bars">
<rect class="red" x="1109.5" y="181" width="1" height="33"/>
<rect class="red" x="1109.5" y="288" width="1" height="32"/>
<rect class="red" x="1109.5" y="399" width="1" height="33"/>
<rect class="red" x="1109.5" y="517" width="1" height="16"/>
<rect class="red" x="1109.5" y="537" width="1" height="68"/>
<rect class="red" x="1109.5" y="617" width="1" height="32"/>
<rect class="red" x="1109.5" y="671" width="1" height="67"/>
</g>

<g id="hmw-boxes">
<rect class="box" x="1181" y="117" width="30" height="38"/>
<rect class="box" x="1181" y="320" width="30" height="38"/>
<rect class="box" x="1181" y="359" width="30" height="37"/>
<rect class="box" x="1181" y="459" width="30" height="148"/>
<rect class="box" x="1181" y="611" width="30" height="56"/>
<rect class="box" x="1181" y="668" width="30" height="75"/>
</g>

<g id="connectors">
<path class="conn" d="M1146 53.5H1164M1146 71.5H1164M1164 53.5V71.5M1164 62.5H1183"/>
<path class="conn" d="M1146 90.5H1164M1146 109.5H1164M1164 90.5V109.5M1164 99.5H1183"/>
<path class="conn" d="M1146 127.5H1164M1146 145.5H1164M1164 127.5V145.5M1164 136.5H1181"/>
<path class="conn" d="M1146 170.5H1183"/>
<path class="conn" d="M1146 188.5H1164M1146 206.5H1164M1164 188.5V206.5M1164 197.5H1183"/>
<path class="conn" d="M1146 225.5H1183"/>
<path class="conn" d="M1146 242.5H1164M1146 259.5H1164M1164 242.5V259.5M1164 251H1183"/>
<path class="conn" d="M1146 277.5H1183"/>
<path class="conn" d="M1146 295.5H1164M1146 313.5H1164M1164 295.5V313.5M1164 304.5H1183"/>
<path class="conn" d="M1146 330.5H1164M1146 348.5H1164M1164 330.5V348.5M1164 339.5H1181"/>
<path class="conn" d="M1146 369.5H1164M1146 386.5H1164M1164 369.5V386.5M1164 378H1181"/>
<path class="conn" d="M1146 406.5H1183M1146 424.5H1183M1146 441.5H1183"/>
<path class="conn" d="M1146 469.5H1164M1146 487.5H1164M1146 505.5H1164M1146 524.5H1164M1164 469.5V524.5M1164 497H1181"/>
<path class="conn" d="M1146 544.5H1164M1146 561.5H1164M1146 579.5H1164M1146 597.5H1164M1164 544.5V597.5M1164 571H1181"/>
<path class="conn" d="M1146 624.5H1164M1146 642.5H1164M1164 624.5V642.5M1164 633.5H1181"/>
<path class="conn" d="M1146 679.5H1164M1146 696.5H1164M1146 713.5H1164M1146 730.5H1164M1164 679.5V730.5M1164 705H1181"/>
<path class="conn" d="M1273 55V53.5Q1273 52 1275 52H1368Q1370 52 1370 53.5V55"/>
</g>

<g id="challenges">
<g id="ch-1"><circle class="dot" cx="1117" cy="49" r="1.4"/><rect class="chs" x="1121" y="46" width="25" height="15"/><text class="r" x="1123" y="49.5">4. Need for more blogs or<tspan x="1123" dy="1.9">announcements from teams</tspan><tspan x="1123" dy="1.9">about platform developments</tspan></text></g>
<g id="ch-2"><circle class="dot" cx="1117" cy="67" r="1.4"/><rect class="chs" x="1121" y="64" width="25" height="15"/><text class="r" x="1123" y="67.5">15. Need for consistent<tspan x="1123" dy="1.9">communication channels for</tspan><tspan x="1123" dy="1.9">platform updates</tspan></text></g>
<g id="ch-3"><circle class="dot" cx="1117" cy="86" r="1.4"/><rect class="chs" x="1121" y="83" width="25" height="15"/><text class="r" x="1123" y="86.5">Need to understand the<tspan x="1123" dy="1.9">value prop of the platform</tspan></text></g>
<g id="ch-4"><circle class="dot" cx="1117" cy="105" r="1.4"/><rect class="chs" x="1121" y="102" width="25" height="15"/><text class="r" x="1123" y="105.5">28. Lack of clarity on the<tspan x="1123" dy="1.9">expected value and impact</tspan><tspan x="1123" dy="1.9">of adopting capabilities</tspan></text></g>
<g id="ch-5"><circle class="dot" cx="1117" cy="123" r="1.4"/><rect class="chs" x="1121" y="120" width="25" height="15"/><text class="r" x="1123" y="123.5">29. Need for clearer<tspan x="1123" dy="1.9">communication on benefits</tspan><tspan x="1123" dy="1.9">of platform solutions</tspan></text></g>
<g id="ch-6"><circle class="dot" cx="1117" cy="141" r="1.4"/><rect class="chs" x="1121" y="138" width="25" height="15"/><text class="r" x="1123" y="141.5">23. Lack of clarity on the<tspan x="1123" dy="1.9">impact of capabilities at</tspan><tspan x="1123" dy="1.9">different scales</tspan></text></g>
<g id="ch-7"><circle class="dot" cx="1117" cy="166" r="1.4"/><rect class="chs" x="1121" y="163" width="25" height="15"/><text class="r" x="1123" y="166.5">12. Need for better<tspan x="1123" dy="1.9">handover and knowledge</tspan><tspan x="1123" dy="1.9">transfer</tspan></text></g>
<g id="ch-8"><circle class="dot" cx="1117" cy="184" r="1.4"/><rect class="chs" x="1121" y="181" width="25" height="15"/><text class="r" x="1123" y="184.5">31. Difficulty in keeping up<tspan x="1123" dy="1.9">with changes in the</tspan><tspan x="1123" dy="1.9">platform ecosystem</tspan></text></g>
<g id="ch-9"><circle class="dot" cx="1117" cy="202" r="1.4"/><rect class="chs" x="1121" y="199" width="25" height="15"/><text class="r" x="1123" y="202.5">32. Need for more training<tspan x="1123" dy="1.9">or resources to bridge</tspan><tspan x="1123" dy="1.9">knowledge gaps</tspan></text></g>
<g id="ch-10"><circle class="dot" cx="1117" cy="221" r="1.4"/><rect class="chs" x="1121" y="218" width="25" height="15"/><text class="r" x="1123" y="221.5">18. Perception that adopting<tspan x="1123" dy="1.9">the platform may slow down</tspan><tspan x="1123" dy="1.9">development</tspan></text></g>
<g id="ch-11"><circle class="dot" cx="1117" cy="238" r="1.4"/><rect class="chs" x="1121" y="235" width="25" height="15"/><text class="r" x="1123" y="238.5">33. Desire for more support<tspan x="1123" dy="1.9">channels and resources</tspan></text></g>
<g id="ch-12"><circle class="dot" cx="1117" cy="255" r="1.4"/><rect class="chs" x="1121" y="252" width="25" height="15"/><text class="r" x="1123" y="255.5">34. Having a champion</text></g>
<g id="ch-13"><circle class="dot" cx="1117" cy="273" r="1.4"/><rect class="chs" x="1121" y="270" width="25" height="15"/><text class="r" x="1123" y="273.5">35. Need for a stronger<tspan x="1123" dy="1.9">community engagement</tspan><tspan x="1123" dy="1.9">model</tspan></text></g>
<g id="ch-14"><circle class="dot" cx="1117" cy="291" r="1.4"/><rect class="chs" x="1121" y="288" width="25" height="15"/><text class="r" x="1123" y="291.5">36. Uncertainty about<tspan x="1123" dy="1.9">whether platform solutions</tspan><tspan x="1123" dy="1.9">suit their use cases</tspan></text></g>
<g id="ch-15"><circle class="dot" cx="1117" cy="309" r="1.4"/><rect class="chs" x="1121" y="306" width="25" height="15"/><text class="r" x="1123" y="309.5">37. Desire for clearer<tspan x="1123" dy="1.9">criteria for evaluating</tspan><tspan x="1123" dy="1.9">platform solutions</tspan></text></g>
<g id="ch-16"><circle class="dot" cx="1117" cy="326" r="1.4"/><rect class="chs" x="1121" y="323" width="25" height="15"/><text class="r" x="1123" y="326.5">42. Desire for more<tspan x="1123" dy="1.9">opportunities to provide</tspan><tspan x="1123" dy="1.9">feedback</tspan></text></g>
<g id="ch-17"><circle class="dot" cx="1117" cy="344" r="1.4"/><rect class="chs" x="1121" y="341" width="25" height="15"/><text class="r" x="1123" y="344.5">43. Need for clearer<tspan x="1123" dy="1.9">processes for incorporating</tspan><tspan x="1123" dy="1.9">user feedback</tspan></text></g>
<g id="ch-18"><circle class="dot" cx="1117" cy="365" r="1.4"/><rect class="chs" x="1121" y="362" width="25" height="15"/><text class="r" x="1123" y="365.5">44. Desire for clearer<tspan x="1123" dy="1.9">expectations and timelines</tspan><tspan x="1123" dy="1.9">for adoption</tspan></text></g>
<g id="ch-19"><circle class="dot" cx="1117" cy="382" r="1.4"/><rect class="chs" x="1121" y="379" width="25" height="15"/><text class="r" x="1123" y="382.5">45. Need for better<tspan x="1123" dy="1.9">communication about</tspan><tspan x="1123" dy="1.9">trade-offs</tspan></text></g>
<g id="ch-20"><circle class="dot" cx="1117" cy="402" r="1.4"/><rect class="chs" x="1121" y="399" width="25" height="15"/><text class="r" x="1123" y="402.5">46. Inadequate<tspan x="1123" dy="1.9">documentation for certain</tspan><tspan x="1123" dy="1.9">platform features or tools</tspan></text></g>
<g id="ch-21"><circle class="dot" cx="1117" cy="420" r="1.4"/><rect class="chs" x="1121" y="417" width="25" height="15"/><text class="r" x="1123" y="420.5">47. Lack of comprehensive<tspan x="1123" dy="1.9">examples and tutorials for</tspan><tspan x="1123" dy="1.9">common use cases</tspan></text></g>
<g id="ch-22"><circle class="dot" cx="1117" cy="437" r="1.4"/><rect class="chs" x="1121" y="434" width="25" height="16"/><text class="r" x="1123" y="437.5">58. Concerns about the<tspan x="1123" dy="1.9">maturity and stability of</tspan><tspan x="1123" dy="1.9">platform components</tspan></text></g>
<g id="ch-23"><circle class="dot" cx="1117" cy="465" r="1.4"/><rect class="chs" x="1121" y="462" width="25" height="15"/><text class="r" x="1123" y="465.5">3. Difficulty in<tspan x="1123" dy="1.9">discovering platform</tspan><tspan x="1123" dy="1.9">capabilities</tspan></text></g>
<g id="ch-24"><circle class="dot" cx="1117" cy="483" r="1.4"/><rect class="chs" x="1121" y="480" width="25" height="15"/><text class="r" x="1123" y="483.5">5. Friction points when<tspan x="1123" dy="1.9">adopting API-based</tspan><tspan x="1123" dy="1.9">solutions</tspan></text></g>
<g id="ch-25"><circle class="dot" cx="1117" cy="501" r="1.4"/><rect class="chs" x="1121" y="498" width="25" height="15"/><text class="r" x="1123" y="501.5">6. Challenges in integrating<tspan x="1123" dy="1.9">and configuring solutions</tspan><tspan x="1123" dy="1.9">like API</tspan></text></g>
<g id="ch-26"><circle class="dot" cx="1117" cy="520" r="1.4"/><rect class="chs" x="1121" y="517" width="25" height="15"/><text class="r" x="1123" y="520.5">7. Time-consuming upgrades<tspan x="1123" dy="1.9">and migrations</tspan></text></g>
<g id="ch-27"><circle class="dot" cx="1117" cy="540" r="1.4"/><rect class="chs" x="1121" y="537" width="25" height="15"/><text class="r" x="1123" y="540.5">8. Lack of clear examples,<tspan x="1123" dy="1.9">standards, and</tspan><tspan x="1123" dy="1.9">documentation</tspan></text></g>
<g id="ch-28"><circle class="dot" cx="1117" cy="557" r="1.4"/><rect class="chs" x="1121" y="554" width="25" height="15"/><text class="r" x="1123" y="557.5">10. Lack of clear<tspan x="1123" dy="1.9">documentation on how to</tspan><tspan x="1123" dy="1.9">use certain tools</tspan></text></g>
<g id="ch-29"><circle class="dot" cx="1117" cy="575" r="1.4"/><rect class="chs" x="1121" y="572" width="25" height="15"/><text class="r" x="1123" y="575.5">16. Challenges in<tspan x="1123" dy="1.9">familiarizing with platform</tspan><tspan x="1123" dy="1.9">capabilities</tspan></text></g>
<g id="ch-30"><circle class="dot" cx="1117" cy="593" r="1.4"/><rect class="chs" x="1121" y="590" width="25" height="15"/><text class="r" x="1123" y="593.5">17. Lack of clear resources<tspan x="1123" dy="1.9">or guidance for onboarding</tspan></text></g>
<g id="ch-31"><circle class="dot" cx="1117" cy="620" r="1.4"/><rect class="chs" x="1121" y="617" width="25" height="15"/><text class="r" x="1123" y="620.5">38. Challenges in setting up<tspan x="1123" dy="1.9">infrastructure-related</tspan><tspan x="1123" dy="1.9">tools</tspan></text></g>
<g id="ch-32"><circle class="dot" cx="1117" cy="638" r="1.4"/><rect class="chs" x="1121" y="635" width="25" height="15"/><text class="r" x="1123" y="638.5">39. Need for better<tspan x="1123" dy="1.9">guidance for configuring</tspan><tspan x="1123" dy="1.9">infrastructure tools</tspan></text></g>
<g id="ch-33"><circle class="dot" cx="1117" cy="675" r="1.4"/><rect class="chs" x="1121" y="672" width="25" height="15"/><text class="r" x="1123" y="675.5">24. Desire for better<tspan x="1123" dy="1.9">integration with existing</tspan><tspan x="1123" dy="1.9">tools</tspan></text></g>
<g id="ch-34"><circle class="dot" cx="1117" cy="692" r="1.4"/><rect class="chs" x="1121" y="689" width="25" height="15"/><text class="r" x="1123" y="692.5">48. Difficulty in integrating<tspan x="1123" dy="1.9">platform solutions with</tspan><tspan x="1123" dy="1.9">existing systems</tspan></text></g>
<g id="ch-35"><circle class="dot" cx="1117" cy="709" r="1.4"/><rect class="chs" x="1121" y="706" width="25" height="15"/><text class="r" x="1123" y="709.5">49. Need for clearer<tspan x="1123" dy="1.9">guidance for integrating</tspan><tspan x="1123" dy="1.9">with other frameworks</tspan></text></g>
<g id="ch-36"><circle class="dot" cx="1117" cy="726" r="1.4"/><rect class="chs" x="1121" y="723" width="25" height="15"/><text class="r" x="1123" y="726.5">54. Issues with dependency<tspan x="1123" dy="1.9">management</tspan></text></g>
</g>

<g id="hmws">
<g id="hmw-1"><rect class="hm" x="1183" y="55" width="26" height="15"/><text class="r" x="1185" y="58.5">HMW create a central channel<tspan x="1185" dy="1.9">for broadcasting platform</tspan><tspan x="1185" dy="1.9">updates and release notes?</tspan></text></g>
<g id="hmw-2"><rect class="hm" x="1183" y="92" width="26" height="15"/><text class="r" x="1185" y="95.5">HMW clearly communicate the<tspan x="1185" dy="1.9">value and impact of adopting</tspan><tspan x="1185" dy="1.9">platform capabilities?</tspan></text></g>
<g id="hmw-3"><rect class="hm" x="1183" y="120" width="26" height="15"/><text class="r" x="1185" y="123.5">HMW show the benefits of<tspan x="1185" dy="1.9">platform solutions at</tspan><tspan x="1185" dy="1.9">different scales?</tspan></text></g>
<g id="hmw-4"><rect class="hm" x="1183" y="138" width="26" height="15"/><text class="r" x="1185" y="141.5">HMW quantify the impact of<tspan x="1185" dy="1.9">platform adoption for</tspan><tspan x="1185" dy="1.9">product teams?</tspan></text></g>
<g id="hmw-5"><rect class="hm" x="1183" y="163" width="26" height="15"/><text class="r" x="1185" y="166.5">HMW improve handover and<tspan x="1185" dy="1.9">knowledge transfer after</tspan><tspan x="1185" dy="1.9">contributions?</tspan></text></g>
<g id="hmw-6"><rect class="hm" x="1183" y="190" width="26" height="15"/><text class="r" x="1185" y="193.5">HMW help developers keep up<tspan x="1185" dy="1.9">with platform changes and</tspan><tspan x="1185" dy="1.9">close knowledge gaps?</tspan></text></g>
<g id="hmw-7"><rect class="hm" x="1183" y="218" width="26" height="15"/><text class="r" x="1185" y="221.5">HMW address the perception<tspan x="1185" dy="1.9">that adopting the platform</tspan><tspan x="1185" dy="1.9">slows down development?</tspan></text></g>
<g id="hmw-8"><rect class="hm" x="1183" y="243.5" width="26" height="15"/><text class="r" x="1185" y="247">HMW provide dedicated<tspan x="1185" dy="1.9">support channels and</tspan><tspan x="1185" dy="1.9">platform champions?</tspan></text></g>
<g id="hmw-9"><rect class="hm" x="1183" y="270" width="26" height="15"/><text class="r" x="1185" y="273.5">HMW build a stronger<tspan x="1185" dy="1.9">community engagement model</tspan><tspan x="1185" dy="1.9">among developers?</tspan></text></g>
<g id="hmw-10"><rect class="hm" x="1183" y="297" width="26" height="15"/><text class="r" x="1185" y="300.5">HMW help teams evaluate if<tspan x="1185" dy="1.9">platform solutions suit</tspan><tspan x="1185" dy="1.9">their use cases?</tspan></text></g>
<g id="hmw-11"><rect class="hm" x="1183" y="323" width="26" height="15"/><text class="r" x="1185" y="326.5">HMW make it easier to<tspan x="1185" dy="1.9">provide feedback on</tspan><tspan x="1185" dy="1.9">platform tools?</tspan></text></g>
<g id="hmw-12"><rect class="hm" x="1183" y="341" width="26" height="15"/><text class="r" x="1185" y="344.5">HMW incorporate user<tspan x="1185" dy="1.9">feedback when iterating on</tspan><tspan x="1185" dy="1.9">platform solutions?</tspan></text></g>
<g id="hmw-13"><rect class="hm" x="1183" y="362" width="26" height="15"/><text class="r" x="1185" y="365.5">HMW set clear expectations<tspan x="1185" dy="1.9">and timelines for platform</tspan><tspan x="1185" dy="1.9">adoption?</tspan></text></g>
<g id="hmw-14"><rect class="hm" x="1183" y="379" width="26" height="15"/><text class="r" x="1185" y="382.5">HMW communicate trade-offs<tspan x="1185" dy="1.9">involved in adopting</tspan><tspan x="1185" dy="1.9">platform solutions?</tspan></text></g>
<g id="hmw-15"><rect class="hm" x="1183" y="399" width="26" height="15"/><text class="r" x="1185" y="402.5">HMW improve documentation<tspan x="1185" dy="1.9">for platform features and</tspan><tspan x="1185" dy="1.9">tools?</tspan></text></g>
<g id="hmw-16"><rect class="hm" x="1183" y="417" width="26" height="15"/><text class="r" x="1185" y="420.5">HMW provide comprehensive<tspan x="1185" dy="1.9">examples and tutorials for</tspan><tspan x="1185" dy="1.9">common use cases?</tspan></text></g>
<g id="hmw-17"><rect class="hm" x="1183" y="434" width="26" height="17"/><text class="r" x="1185" y="437.5">HMW build confidence in the<tspan x="1185" dy="1.9">maturity and stability of</tspan><tspan x="1185" dy="1.9">platform components?</tspan></text></g>
<g id="hmw-18"><rect class="hm" x="1183" y="462" width="26" height="15"/><text class="r" x="1185" y="465.5">HMW make platform<tspan x="1185" dy="1.9">capabilities easier to</tspan><tspan x="1185" dy="1.9">discover?</tspan></text></g>
<g id="hmw-19"><rect class="hm" x="1183" y="480" width="26" height="15"/><text class="r" x="1185" y="483.5">HMW reduce friction when<tspan x="1185" dy="1.9">adopting API-based</tspan><tspan x="1185" dy="1.9">solutions?</tspan></text></g>
<g id="hmw-20"><rect class="hm" x="1183" y="498" width="26" height="15"/><text class="r" x="1185" y="501.5">HMW simplify integrating<tspan x="1185" dy="1.9">and configuring platform</tspan><tspan x="1185" dy="1.9">solutions?</tspan></text></g>
<g id="hmw-21"><rect class="hm" x="1183" y="517" width="26" height="15"/><text class="r" x="1185" y="520.5">HMW make upgrades and<tspan x="1185" dy="1.9">migrations less time-</tspan><tspan x="1185" dy="1.9">consuming?</tspan></text></g>
<g id="hmw-22"><rect class="hm" x="1183" y="537" width="26" height="15"/><text class="r" x="1185" y="540.5">HMW provide clear examples<tspan x="1185" dy="1.9">and standards for</tspan><tspan x="1185" dy="1.9">integration?</tspan></text></g>
<g id="hmw-23"><rect class="hm" x="1183" y="554" width="26" height="15"/><text class="r" x="1185" y="557.5">HMW improve documentation<tspan x="1185" dy="1.9">on how to use tools and</tspan><tspan x="1185" dy="1.9">features?</tspan></text></g>
<g id="hmw-24"><rect class="hm" x="1183" y="572" width="26" height="15"/><text class="r" x="1185" y="575.5">HMW help developers<tspan x="1185" dy="1.9">familiarize with platform</tspan><tspan x="1185" dy="1.9">capabilities?</tspan></text></g>
<g id="hmw-25"><rect class="hm" x="1183" y="590" width="26" height="15"/><text class="r" x="1185" y="593.5">HMW provide clear<tspan x="1185" dy="1.9">onboarding resources and</tspan><tspan x="1185" dy="1.9">guidance?</tspan></text></g>
<g id="hmw-26"><rect class="hm" x="1183" y="617" width="26" height="15"/><text class="r" x="1185" y="620.5">HMW simplify setting up<tspan x="1185" dy="1.9">infrastructure-related</tspan><tspan x="1185" dy="1.9">tools?</tspan></text></g>
<g id="hmw-27"><rect class="hm" x="1183" y="634" width="26" height="15"/><text class="r" x="1185" y="637.5">HMW provide guidance for<tspan x="1185" dy="1.9">configuring infrastructure</tspan><tspan x="1185" dy="1.9">tools effectively?</tspan></text></g>
<g id="hmw-28"><rect class="hm" x="1183" y="671" width="26" height="15"/><text class="r" x="1185" y="674.5">HMW improve integration<tspan x="1185" dy="1.9">with existing tools and</tspan><tspan x="1185" dy="1.9">ecosystems?</tspan></text></g>
<g id="hmw-29"><rect class="hm" x="1183" y="688" width="26" height="15"/><text class="r" x="1185" y="691.5">HMW reduce delays when<tspan x="1185" dy="1.9">integrating platform</tspan><tspan x="1185" dy="1.9">solutions?</tspan></text></g>
<g id="hmw-30"><rect class="hm" x="1183" y="706" width="26" height="15"/><text class="r" x="1185" y="709.5">HMW share best practices<tspan x="1185" dy="1.9">for integrating with other</tspan><tspan x="1185" dy="1.9">frameworks?</tspan></text></g>
<g id="hmw-31"><rect class="hm" x="1183" y="724" width="26" height="15"/><text class="r" x="1185" y="727.5">HMW simplify dependency<tspan x="1185" dy="1.9">management across</tspan><tspan x="1185" dy="1.9">platform libraries?</tspan></text></g>
</g>

<g id="ideas">
<g id="idea-1"><rect class="idea" x="1232" y="55" width="25" height="15"/><text class="r" x="1234" y="58.5">Platform newsletter with<tspan x="1234" dy="1.9">monthly highlights and</tspan><tspan x="1234" dy="1.9">release notes</tspan></text></g>
<g id="idea-2"><rect class="idea" x="1261" y="55" width="25" height="15"/><text class="r" x="1263" y="58.5">Dedicated Slack channel<tspan x="1263" dy="1.9">for announcements</tspan></text></g>
<g id="idea-3"><rect class="idea" x="1290" y="55" width="25" height="15"/><text class="r" x="1292" y="58.5">Blog posts from teams<tspan x="1292" dy="1.9">about new platform</tspan><tspan x="1292" dy="1.9">developments</tspan></text></g>
<g id="idea-4"><rect class="idea" x="1320" y="55" width="25" height="15"/><text class="r" x="1322" y="58.5">Release notes in a<tspan x="1322" dy="1.9">central portal</tspan></text></g>
<g id="idea-5"><rect class="idea" x="1232" y="92" width="25" height="17"/><text class="r" x="1234" y="95.5">Value dashboard:<tspan x="1234" dy="1.9">- adoption</tspan><tspan x="1234" dy="1.9">- time saved</tspan><tspan x="1234" dy="1.9">- incidents</tspan><tspan x="1234" dy="1.9">- DX score</tspan></text></g>
<g id="idea-6"><rect class="idea" x="1261" y="92" width="25" height="15"/><text class="r" x="1263" y="95.5">Case studies from teams<tspan x="1263" dy="1.9">that adopted platform</tspan><tspan x="1263" dy="1.9">capabilities</tspan></text></g>
<g id="idea-7"><rect class="idea" x="1290" y="92" width="25" height="15"/><text class="r" x="1292" y="95.5">Show &amp; tell sessions to<tspan x="1292" dy="1.9">demo platform impact</tspan></text></g>
<g id="idea-8"><rect class="idea" x="1232" y="120" width="25" height="15"/><text class="r" x="1234" y="123.5">Metrics on build times<tspan x="1234" dy="1.9">and performance at scale</tspan></text></g>
<g id="idea-9"><rect class="idea" x="1261" y="120" width="25" height="15"/><text class="r" x="1263" y="123.5">Scale guidelines in docs</text></g>
<g id="idea-10"><rect class="idea" x="1290" y="120" width="25" height="15"/><text class="r" x="1292" y="123.5">ROI calculator for<tspan x="1292" dy="1.9">platform adoption</tspan></text></g>
<g id="idea-11"><rect class="idea" x="1320" y="120" width="25" height="15"/><text class="r" x="1322" y="123.5">Team testimonials</text></g>
<g id="idea-12"><rect class="idea" x="1232" y="138" width="25" height="15"/><text class="r" x="1234" y="141.5">Adoption success stories<tspan x="1234" dy="1.9">shared quarterly</tspan></text></g>
<g id="idea-13"><rect class="idea" x="1232" y="162" width="25" height="15"/><text class="r" x="1234" y="165.5">Handover checklist and<tspan x="1234" dy="1.9">templates for</tspan><tspan x="1234" dy="1.9">contributions</tspan></text></g>
<g id="idea-14"><rect class="idea" x="1233" y="417" width="25" height="15"/><text class="r" x="1235" y="420.5">Docs quality review<tspan x="1235" dy="1.9">for top features</tspan></text></g>
<g id="idea-15"><rect class="idea" x="1262" y="417" width="25" height="15"/><text class="r" x="1264" y="420.5">Docs owners per<tspan x="1264" dy="1.9">feature area</tspan></text></g>
<g id="idea-16"><rect class="idea" x="1292" y="417" width="25" height="15"/><text class="r" x="1294" y="420.5">Example repo with<tspan x="1294" dy="1.9">common use cases</tspan></text></g>
<g id="idea-17"><rect class="idea" x="1248" y="435" width="25" height="15"/><text class="r" x="1250" y="438.5">Stability labels: alpha,<tspan x="1250" dy="1.9">beta, stable</tspan></text></g>
<g id="idea-18"><rect class="idea" x="1233" y="500" width="25" height="15"/><text class="r" x="1235" y="503.5">Capability catalogue<tspan x="1235" dy="1.9">with search</tspan></text></g>
<g id="idea-19"><rect class="idea" x="1320" y="501" width="35" height="31"/><text class="r" x="1322" y="504.5">Migration guides:<tspan x="1322" dy="1.9">- Webpack to Parcel</tspan><tspan x="1322" dy="1.9">- codemods</tspan><tspan x="1322" dy="1.9">- upgrade scripts</tspan><tspan x="1322" dy="1.9">- support hours</tspan><tspan x="1322" dy="3">Owners:</tspan><tspan x="1322" dy="1.9">platform team</tspan></text></g>
<g id="idea-20"><rect class="idea" x="1233" y="517" width="25" height="15"/><text class="r" x="1235" y="520.5">Integration starter kits</text></g>
<g id="idea-21"><rect class="idea" x="1262" y="517" width="25" height="15"/><text class="r" x="1264" y="520.5">Reference<tspan x="1264" dy="1.9">implementations for</tspan><tspan x="1264" dy="1.9">common setups</tspan></text></g>
<g id="idea-22"><rect class="idea" x="1292" y="517" width="25" height="15"/><text class="r" x="1294" y="520.5">Automated upgrade<tspan x="1294" dy="1.9">tooling and codemods</tspan><tspan x="1294" dy="1.9">for migrations</tspan></text></g>
<g id="idea-23"><rect class="idea" x="1233" y="576" width="25" height="15"/><text class="r" x="1235" y="579.5">Onboarding guide and<tspan x="1235" dy="1.9">learning path for</tspan><tspan x="1235" dy="1.9">new developers</tspan></text></g>
<g id="idea-24"><rect class="idea" x="1233" y="619" width="25" height="15"/><text class="r" x="1235" y="622.5">Infra templates for GKE<tspan x="1235" dy="1.9">and Kubernetes setup</tspan></text></g>
<g id="idea-25"><rect class="idea" x="1233" y="671" width="25" height="15"/><text class="r" x="1235" y="674.5">Integration guides for<tspan x="1235" dy="1.9">popular tools and</tspan><tspan x="1235" dy="1.9">frameworks</tspan></text></g>
</g>

<g id="reverse">
<g id="rev-1"><rect class="rb1" x="1358" y="55" width="25" height="17"/><text class="r" x="1360" y="58.5">Teams may ignore<tspan x="1360" dy="1.9">updates if channels</tspan><tspan x="1360" dy="1.9">are too noisy or</tspan><tspan x="1360" dy="1.9">not relevant to them</tspan></text></g>
<g id="rev-2"><rect class="rb2" x="1420" y="55" width="26" height="15"/><text class="r" x="1422" y="58.5">Curate updates by<tspan x="1422" dy="1.9">area and let teams</tspan><tspan x="1422" dy="1.9">subscribe to topics</tspan></text></g>
</g>
<g id="constraints">
<g id="con-1"><rect class="cs1" x="1483" y="55" width="24" height="14"/><text class="r" x="1485" y="58.5">Resourcing<tspan x="1485" dy="1.9">constraints</tspan></text></g>
<g id="con-2"><rect class="cs2" x="1546" y="55" width="24" height="14"/><text class="r" x="1548" y="58.5">Some teams may not<tspan x="1548" dy="1.9">have bandwidth to adopt</tspan></text></g>
</g>
</g>
</svg>
